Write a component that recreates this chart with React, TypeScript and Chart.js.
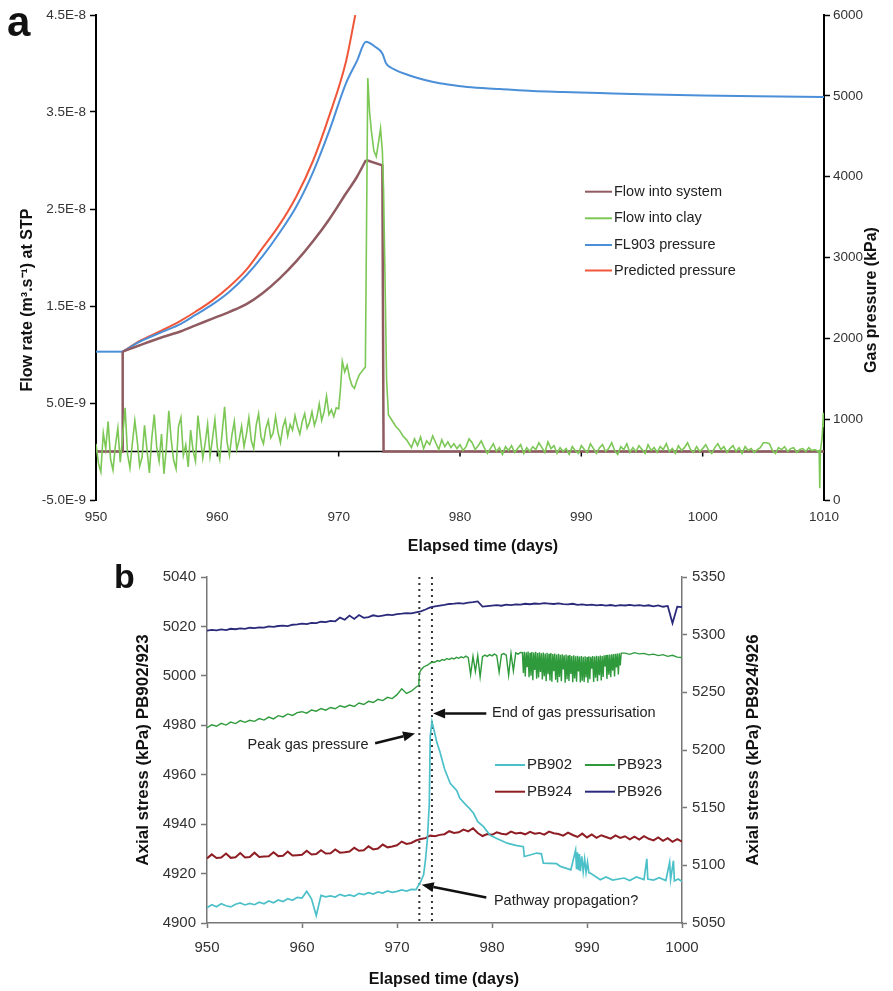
import React, { useEffect, useRef } from "react";
import { Chart, registerables } from "chart.js";

Chart.register(...registerables);

const FONT = '"Liberation Sans", Arial, Helvetica, sans-serif';
Chart.defaults.font.family = FONT;

/* ======================= Panel a ======================= */
const panelAX = { min: 950, max: 1010, step: 10 };
const flowAxis = { min: -5, max: 45, step: 10 }; // flow in units of 1e-9 m3/s
const pressureAxis = { min: 0, max: 6000, step: 1000 }; // kPa

const seriesNamesA = ["Flow into system", "Flow into clay", "FL903 pressure", "Predicted pressure"];
const seriesColorsA = ["#8f5b60", "#7cc756", "#4a8fd8", "#f0573a"];

// Flow into system [day, flow ×1e-9]: step parts (null = gap) and smooth ramp
const flowIntoSystemSteps: (number | null)[][] = [
  [950, 0], [952.2, 0], [952.2, 10.3], [952.3, null],
  [972.25, 30.05], [973.6, 29.5], [973.7, 0], [1010, 0],
];
const flowIntoSystemRamp: number[][] = [
  [952.2, 10.3], [953.5, 10.9], [955.5, 11.8], [957, 12.4], [958.2, 13.0],
  [959.6, 13.7], [961, 14.4], [962.4, 15.2], [963.7, 16.3], [965.1, 17.8], [966.5, 19.6],
  [967.9, 21.7], [969.2, 23.9], [970.6, 26.6], [971.5, 28.3], [972.25, 30.05],
];

// FL903 pressure [day, kPa]
const fl903Flat: number[][] = [[950, 1835], [952.2, 1835]];
const fl903Pressure: number[][] = [
  [952.2, 1835], [953.5, 1950], [955.5, 2082], [957, 2180], [958.2, 2289], [959.6, 2420],
  [961, 2577], [962.4, 2780], [963.7, 3010], [965.1, 3300], [966.5, 3628], [967.9, 4060],
  [969.2, 4557], [970.6, 5155], [971.5, 5430], [972.25, 5670], [973.0, 5608], [973.6, 5525],
  [973.9, 5403], [974.3, 5350], [974.7, 5319], [975.5, 5270], [976.5, 5220], [977.8, 5171],
  [979, 5140], [980.6, 5109], [983.3, 5085], [986, 5060], [988.5, 5048], [991.5, 5035],
  [995, 5020], [1000, 5005], [1004.5, 4995], [1010, 4985],
];

const predictedPressure: number[][] = [
  [952.2, 1835], [953.5, 1960], [955.5, 2103], [957, 2220], [958.2, 2329], [959.6, 2470],
  [961, 2641], [962.4, 2850], [963.7, 3112], [965.1, 3400], [966.5, 3752], [967.9, 4200],
  [969.2, 4742], [970.6, 5422], [971.37, 6000],
];

// Flow into clay, sampled every 0.2 days from day 950 (×1e-9)
const clayEarlyStart = 950;
const clayEarlyStep = 0.2;
const clayEarly = [
  0.8, -1.2, -2.1, 1.9, 0.3, 3.1, -0.8, -1.9, 0.6, 2.4, -1.1,
  1.6, 4.5, -0.3, -1.7, 0.9, 3.2, 1.1, -1.5, -0.6, 2.7,
  0.2, -2.2, 1.4, 3.8, 0.5, -1.0, 1.8, -2.3, 0.4, 4.2,
  1.2, -0.9, -1.8, 2.6, 3.5, -0.4, 0.7, -1.6, 2.2, 0.1,
  -1.0, 3.7, 1.5, -0.7, 0.9, 2.8, -0.5, 1.3, 3.3, 0.4,
  -0.8, 2.0, 4.6, 1.0, -0.4, 1.7, 3.1, 0.2, 1.2, 2.6,
  0.5, 1.8, 3.5, 1.1, 0.3, 2.7, 3.9, 1.5, 0.8, 2.4,
  3.2, 1.4, 1.9, 3.6, 2.0, 0.9, 2.5, 3.3, 1.6, 2.8,
  2.2, 3.7, 2.6, 1.8, 3.1, 3.9, 2.4, 3.0, 4.1, 2.7,
  3.5, 4.9, 3.2, 4.1, 5.7, 3.8, 4.3, 3.6, 4.5,
];
const clayPeak: number[][] = [
  [970.0, 4.4], [970.15, 6.5], [970.3, 9.3], [970.5, 8.2], [970.7, 8.9], [970.9, 7.6], [971.1, 6.8],
  [971.3, 6.5], [971.5, 7.3], [971.7, 7.9], [972.0, 8.4], [972.2, 8.7], [972.4, 38.5], [972.55, 35.0],
  [972.7, 33.0], [972.9, 31.0], [973.1, 30.4], [973.3, 32.0], [973.45, 33.3], [973.6, 31.0],
  [973.7, 27.0], [973.85, 15.6], [973.95, 7.4], [974.1, 3.8], [974.4, 3.2], [974.7, 2.6],
  [975.0, 2.2], [975.3, 1.6], [975.6, 1.2],
];
// sampled every 0.25 days from day 976
const clayTailStart = 976;
const clayTailStep = 0.25;
const clayTail = [
  0.4, 1.3, 0.6, 1.5, 0.3, 1.1, 0.7, 1.6, 0.9,
  0.2, 1.2, 0.5, 1.0, 0.4, 0.8, 0.3, 0.7,
  0.1, 0.5, 1.3, 0.9, 0.2, 0.6, 1.1, 0.4,
  -0.2, 0.3, 0.8, 0.0, 0.4, -0.3, 0.5, 0.1,
  0.6, -0.1, 0.3, 0.7, -0.2, 0.4, 0.0, 0.5,
  0.2, 0.9, 0.4, -0.1, 1.0, 0.3, 0.6, -0.2,
  0.4, 0.0, 0.3, -0.3, 0.5, 0.1, -0.2, 0.6,
  0.2, -0.1, 0.8, 0.3, -0.2, 0.4, 0.7, 0.0,
  0.3, 0.9, 0.1, -0.3, 0.5, 0.2, 0.8, -0.1,
  0.4, 0.0, 0.6, 0.2, -0.2, 0.7, 0.1, 0.4,
  -0.1, 0.5, 0.2, 0.8, 0.0, 0.3, -0.2, 0.6,
  0.1, 0.4, 0.9, 0.2, -0.1, 0.5, 0.0, 0.3,
  0.7, 0.1, -0.2, 0.4, 0.8, 0.2, 0.5, -0.1,
  0.3, 0.6, 0.0, 0.4, -0.2, 0.5, 0.1, 0.3,
  -0.1, 0.2, 0.4, 0.9, 0.9, 0.8, 0.1, -0.2,
  0.4, 0.2, 0.5, 0.0, 0.3, 0.4, -0.1, 0.2,
  0.3, 0.0, 0.4, 0.1, 0.2, 0.0,
];
const clayEnd: number[][] = [
  [1009.6, 0.1], [1009.65, -3.8], [1009.7, 0.0], [1009.85, 1.5], [1009.95, 4.0], [1010, 2.5],
];

/* ======================= Panel b ======================= */
const panelBX = { min: 950, max: 1000, step: 10 };
const stressAxisLeft = { min: 4900, max: 5040, step: 20 };
const stressAxisRight = { min: 5050, max: 5350, step: 50 };

const seriesNamesB = ["PB902", "PB923", "PB924", "PB926"];
const seriesColorsB = ["#4cc0c9", "#2f9a3c", "#8e1d24", "#2b2a7a"];

const markerDays = [972.35, 973.68];

// PB926 (right axis), every 0.5 days from 950
const pb926Start = 950;
const pb926Step = 0.5;
const pb926 = [
  5303.5, 5304.2, 5303.8, 5304.6, 5304.0, 5305.1, 5304.7, 5305.4, 5305.0, 5306.0,
  5305.6, 5306.4, 5306.1, 5307.2, 5306.8, 5307.5, 5307.9, 5307.4, 5308.6, 5308.9,
  5309.5, 5309.1, 5310.3, 5310.0, 5311.2, 5310.8, 5312.0, 5311.6, 5314.8, 5312.9,
  5316.5, 5313.6, 5317.0, 5314.6, 5315.2, 5316.8, 5315.9, 5316.6, 5317.3, 5317.0,
  5317.8, 5318.2, 5318.7, 5318.4, 5319.3, 5320.2, 5321.8, 5323.6, 5324.6, 5325.2,
  5325.8, 5326.6, 5326.9, 5327.3, 5327.0, 5327.8, 5328.3, 5328.9, 5324.4, 5324.8,
  5325.2, 5325.6, 5325.1, 5326.0, 5325.7, 5326.3, 5326.0, 5326.8, 5326.4, 5327.0,
  5326.7, 5327.3, 5327.0, 5326.6, 5327.1, 5326.5, 5326.2, 5326.8, 5325.9, 5326.3,
  5325.6, 5326.0, 5325.4, 5325.9, 5325.2, 5325.7, 5325.0, 5325.6, 5325.3, 5325.8,
  5325.2, 5325.6, 5325.0, 5325.5, 5324.6, 5325.3, 5324.2, 5324.9, 5310.0, 5324.3,
  5323.8,
];

// PB924 (right axis), every 0.5 days from 950
const pb924Start = 950;
const pb924Step = 0.5;
const pb924 = [
  5106.0, 5109.5, 5106.4, 5106.8, 5110.2, 5106.5, 5107.0, 5110.6, 5106.9, 5107.3,
  5111.0, 5107.2, 5107.6, 5107.9, 5111.4, 5108.0, 5108.3, 5111.9, 5108.5, 5108.8,
  5109.1, 5112.6, 5109.4, 5109.8, 5113.1, 5110.2, 5110.5, 5113.8, 5111.0, 5111.4,
  5112.0, 5115.2, 5112.6, 5113.1, 5116.5, 5113.8, 5114.6, 5118.0, 5115.6, 5116.3,
  5117.4, 5120.6, 5118.5, 5119.4, 5121.5, 5122.8, 5123.6, 5125.9, 5125.3, 5126.4,
  5127.0, 5129.6, 5128.1, 5128.6, 5131.0, 5129.4, 5132.2, 5128.0, 5125.4, 5127.2,
  5126.5, 5128.6, 5127.4, 5126.8, 5129.2, 5127.6, 5128.3, 5126.9, 5129.0, 5127.5,
  5128.1, 5126.6, 5129.3, 5127.9, 5127.2, 5125.8, 5128.4, 5126.3, 5124.6, 5127.5,
  5124.2, 5126.8, 5123.9, 5126.1, 5124.6, 5123.2, 5126.0, 5123.8, 5125.2, 5122.6,
  5124.8, 5122.4, 5125.3, 5123.0, 5121.6, 5124.2, 5121.2, 5123.6, 5120.4, 5122.8,
  5120.6,
];

// PB923 (left axis)
const pb923EarlyStart = 950;
const pb923EarlyStep = 0.5;
const pb923Early = [
  4979.0, 4980.2, 4979.6, 4980.8, 4980.1, 4981.3, 4980.7, 4981.9, 4981.2, 4982.0,
  4981.6, 4982.7, 4982.1, 4983.3, 4982.6, 4983.9, 4983.4, 4984.6, 4984.0, 4985.1,
  4985.5, 4984.9, 4986.2, 4985.7, 4986.8, 4986.1, 4987.2, 4986.7, 4987.9, 4987.3,
  4988.2, 4987.6, 4989.0, 4988.4, 4989.7, 4989.2, 4990.5, 4990.0, 4991.3, 4990.8,
  4992.4, 4994.8, 4992.9, 4993.8, 4995.4,
];
const pb923Jump: number[][] = [
  [972.3, 4996.2], [972.35, 5001.0], [972.5, 5002.3], [972.8, 5003.6], [973.2, 5004.3], [973.6, 5005.4],
];
const pb923MidStart = 974;
const pb923MidStep = 0.25;
const pb923Mid = [
  5005.6, 5006.2, 5005.9, 5006.6, 5006.3, 5007.0, 5006.6, 5007.2, 5006.8, 5007.5, 5007.1, 5007.7,
  5007.3, 5008.0, 5007.4, 5000.5, 5007.9, 5001.8, 5008.2, 4999.6, 5007.8, 5008.4, 5007.9, 5008.6,
  5008.1, 5008.8, 5008.3, 5001.5, 5008.6, 5009.0, 5008.4, 5000.2, 5009.1, 5002.0, 5009.3, 5008.8,
  5009.5,
];
// oscillating band, every 0.1 days from 983.2
const pb923BandStart = 983.2;
const pb923BandStep = 0.1;
const pb923Band = [
  5009.4, 5001.2, 5009.7, 4999.8, 5009.5, 5003.5, 5009.8, 4999.4, 5009.3, 5000.1,
  5009.6, 4998.2, 5009.4, 5002.4, 5009.7, 4998.8, 5009.2, 4999.3, 5009.5, 5001.6,
  5009.1, 4998.5, 5009.4, 4999.9, 5009.0, 4997.8, 5009.3, 5000.7, 5008.9, 4998.1,
  5009.2, 4997.6, 5008.8, 5001.9, 5009.0, 4998.4, 5008.6, 4997.3, 5008.9, 4999.5,
  5008.5, 4997.8, 5008.7, 5002.6, 5008.3, 4997.2, 5008.6, 4998.6, 5008.2, 4997.9,
  5008.4, 5000.8, 5008.0, 4997.4, 5008.3, 4998.9, 5007.9, 4997.6, 5008.1, 5001.8,
  5007.8, 4997.3, 5008.0, 4998.0, 5007.7, 4997.5, 5007.9, 4999.3, 5007.6, 4997.2,
  5007.9, 4998.6, 5007.7, 5002.9, 5008.0, 4997.5, 5007.8, 4999.2, 5008.1, 4997.8,
  5007.9, 5000.3, 5008.2, 4998.1, 5008.0, 4999.6, 5008.3, 5003.8, 5008.4, 4998.7,
  5008.5, 5000.5, 5008.6, 4999.4, 5008.7, 5002.1, 5008.8, 4999.8, 5008.9, 5003.4,
  5009.0, 5000.6, 5009.1, 5004.2, 5009.2,
];
const pb923LateStart = 994;
const pb923LateStep = 0.5;
const pb923Late = [
  5009.2, 5008.7, 5009.4, 5008.9, 5009.1, 5008.5, 5008.8, 5008.2, 5008.6, 5007.9, 5008.3, 5007.6, 5007.4,
];

// PB902 (left axis)
const pb902EarlyStart = 950;
const pb902EarlyStep = 0.5;
const pb902Early = [
  4906.2, 4907.4, 4906.6, 4907.8, 4907.0, 4906.5, 4907.6, 4908.1, 4907.3, 4907.9,
  4907.4, 4908.4, 4907.8, 4908.9, 4908.2, 4909.3, 4908.7, 4909.8, 4909.2, 4910.4,
  4910.1, 4912.8, 4909.8, 4903.0, 4911.2, 4910.6, 4911.0, 4910.5, 4911.6, 4910.9,
  4911.4, 4910.8, 4912.0, 4911.5, 4912.3, 4911.7, 4912.6, 4912.1, 4913.0, 4912.4,
  4912.8, 4913.4, 4912.9, 4913.6, 4913.5,
];
const pb902Late: number[][] = [
  [972.5, 4916.8], [972.8, 4919.5], [973.0, 4925.6], [973.2, 4934.0], [973.4, 4948.5], [973.5, 4975.4],
  [973.68, 4981.4], [973.9, 4978.0], [974.2, 4973.0], [974.5, 4969.5], [975.0, 4962.4], [975.6, 4956.5],
  [976.3, 4953.5], [976.6, 4950.6], [977.3, 4947.6], [977.6, 4946.5], [978.06, 4944.4], [978.5, 4941.0],
  [979.1, 4939.0], [979.8, 4935.5], [980.5, 4934.2], [981.6, 4932.3], [982.5, 4931.4], [983.3, 4930.9],
  [983.4, 4926.9], [984.0, 4927.5], [984.7, 4928.3], [985.2, 4928.0], [985.4, 4924.2], [986.8, 4924.0],
  [987.2, 4922.9], [988.3, 4921.5], [988.8, 4929.5], [988.9, 4921.8], [989.0, 4928.6], [989.1, 4921.4],
  [989.2, 4927.9], [989.3, 4921.0], [989.45, 4927.0], [989.6, 4920.8], [989.75, 4925.8], [989.9, 4920.5],
  [990.05, 4924.6], [990.2, 4920.3], [990.35, 4920.2], [991.4, 4917.5], [992.0, 4918.6], [992.7, 4917.4],
  [993.9, 4918.2], [994.5, 4917.2], [995.2, 4918.6], [996.0, 4917.6], [996.3, 4926.0], [996.4, 4917.8],
  [997.0, 4917.4], [997.6, 4918.3], [998.3, 4917.2], [998.7, 4924.6], [998.8, 4917.6], [999.1, 4925.2],
  [999.2, 4917.0], [999.6, 4917.8], [1000, 4916.8],
];

const annotationsB = [
  { text: "End of gas pressurisation", textAt: [980.0, 4984.8], align: "left", from: [979.4, 4984.8], to: [973.8, 4984.8] },
  { text: "Peak gas pressure", textAt: [967.0, 4972.0], align: "right", from: [967.7, 4972.7], to: [971.9, 4976.7] },
  { text: "Pathway propagation?", textAt: [980.2, 4908.7], align: "left", from: [979.4, 4910.3], to: [972.6, 4915.5] },
];

/* ======================= helpers ======================= */
const pairs = (arr: (number | null)[][]) => arr.map(([x, y]) => ({ x, y }));
const sampled = (start: number, step: number, vals: number[]) =>
  vals.map((y, i) => ({ x: Math.round((start + i * step) * 1000) / 1000, y }));
const plain = (v: any) => String(v);

function drawText(ctx: any, text: string, x: number, y: number, font: string, align = "center", rot = 0, color = "#111", baseline = "middle") {
  ctx.save();
  ctx.translate(x, y);
  ctx.rotate(rot);
  ctx.font = font;
  ctx.fillStyle = color;
  ctx.textAlign = align;
  ctx.textBaseline = baseline;
  ctx.fillText(text, 0, 0);
  ctx.restore();
}

function drawArrow(ctx: any, x1: number, y1: number, x2: number, y2: number) {
  const ang = Math.atan2(y2 - y1, x2 - x1);
  const len = 12;
  const half = 5;
  const bx = x2 - len * Math.cos(ang);
  const by = y2 - len * Math.sin(ang);
  ctx.save();
  ctx.strokeStyle = "#111";
  ctx.fillStyle = "#111";
  ctx.lineWidth = 2.5;
  ctx.beginPath();
  ctx.moveTo(x1, y1);
  ctx.lineTo(bx, by);
  ctx.stroke();
  ctx.beginPath();
  ctx.moveTo(x2, y2);
  ctx.lineTo(bx + half * Math.sin(ang), by - half * Math.cos(ang));
  ctx.lineTo(bx - half * Math.sin(ang), by + half * Math.cos(ang));
  ctx.closePath();
  ctx.fill();
  ctx.restore();
}

function drawLegend(ctx: any, items: { label: string; color: string; x: number; y: number }[], lineLen: number, font: string) {
  ctx.save();
  items.forEach((it) => {
    ctx.strokeStyle = it.color;
    ctx.lineWidth = 2;
    ctx.beginPath();
    ctx.moveTo(it.x, it.y);
    ctx.lineTo(it.x + lineLen, it.y);
    ctx.stroke();
    drawText(ctx, it.label, it.x + lineLen + 2, it.y, font, "left", 0, "#222");
  });
  ctx.restore();
}

/* ======================= Panel a chart ======================= */
function makeChartA(canvas: HTMLCanvasElement) {
  const plugin = {
    id: "panelAOverlay",
    beforeDatasetsDraw(chart: any) {
      const { ctx, chartArea, scales } = chart;
      const y0 = scales.y.getPixelForValue(0);
      ctx.save();
      ctx.strokeStyle = "#000";
      ctx.lineWidth = 1.5;
      ctx.beginPath();
      ctx.moveTo(chartArea.left, y0);
      ctx.lineTo(chartArea.right, y0);
      scales.x.ticks.forEach((t: any) => {
        const x = scales.x.getPixelForValue(t.value);
        ctx.moveTo(x, y0);
        ctx.lineTo(x, y0 + 5);
      });
      ctx.stroke();
      ctx.restore();
    },
    afterDraw(chart: any) {
      const { ctx } = chart;
      drawText(ctx, "a", 7, 36, `bold 42px ${FONT}`, "left", 0, "#111", "alphabetic");
      drawText(ctx, "Flow rate (m³.s⁻¹) at STP", 28, 300, `bold 16px ${FONT}`, "center", -Math.PI / 2);
      drawText(ctx, "Gas pressure (kPa)", 872, 300, `bold 16px ${FONT}`, "center", -Math.PI / 2);
      drawText(ctx, "Elapsed time (days)", 483, 547, `bold 16px ${FONT}`, "center");
      const rows = [191.7, 218.3, 245, 270.5];
      drawLegend(
        ctx,
        seriesNamesA.map((label, i) => ({ label, color: seriesColorsA[i], x: 585, y: rows[i] })),
        27,
        `14.5px ${FONT}`
      );
    },
  };

  const clayData = [
    ...sampled(clayEarlyStart, clayEarlyStep, clayEarly),
    ...pairs(clayPeak),
    ...sampled(clayTailStart, clayTailStep, clayTail),
    ...pairs(clayEnd),
  ];
  const line = { pointRadius: 0, tension: 0 };

  return new Chart(canvas, {
    type: "line",
    data: {
      datasets: [
        { label: seriesNamesA[1], data: clayData, yAxisID: "y", borderColor: seriesColorsA[1], borderWidth: 1.6, ...line },
        { label: seriesNamesA[0], data: pairs(flowIntoSystemSteps), yAxisID: "y", borderColor: seriesColorsA[0], borderWidth: 2.5, spanGaps: false, ...line },
        { label: seriesNamesA[0], data: pairs(flowIntoSystemRamp), yAxisID: "y", borderColor: seriesColorsA[0], borderWidth: 2.5, pointRadius: 0, cubicInterpolationMode: "monotone" },
        { label: seriesNamesA[2], data: pairs(fl903Flat), yAxisID: "y1", borderColor: seriesColorsA[2], borderWidth: 2, ...line },
        { label: seriesNamesA[2], data: pairs(fl903Pressure), yAxisID: "y1", borderColor: seriesColorsA[2], borderWidth: 2, pointRadius: 0, cubicInterpolationMode: "monotone" },
        { label: seriesNamesA[3], data: pairs(predictedPressure), yAxisID: "y1", borderColor: seriesColorsA[3], borderWidth: 2, pointRadius: 0, cubicInterpolationMode: "monotone" },
      ],
    },
    options: {
      animation: false,
      responsive: false,
      devicePixelRatio: 1,
      events: [],
      layout: { padding: { top: 15, left: 0, right: 0, bottom: 0 } },
      plugins: { legend: { display: false }, tooltip: { enabled: false } },
      scales: {
        x: {
          type: "linear",
          min: panelAX.min,
          max: panelAX.max,
          ticks: { stepSize: panelAX.step, padding: 9, color: "#333", font: { size: 13.5 }, callback: plain },
          grid: { display: false, drawTicks: false },
          border: { display: false },
          afterFit: (s: any) => { s.height = 60; },
        },
        y: {
          type: "linear",
          position: "left",
          min: flowAxis.min,
          max: flowAxis.max,
          ticks: {
            stepSize: flowAxis.step,
            padding: 4,
            color: "#333",
            font: { size: 13.5 },
            callback: (v: any) => (Number(v) * 1e-9).toExponential(1).toUpperCase(),
          },
          grid: { drawOnChartArea: false, tickLength: 6, tickColor: "#000", tickWidth: 1.5 },
          border: { display: true, color: "#000", width: 2 },
          afterFit: (s: any) => { s.width = 96; },
        },
        y1: {
          type: "linear",
          position: "right",
          min: pressureAxis.min,
          max: pressureAxis.max,
          ticks: { stepSize: pressureAxis.step, padding: 3, color: "#333", font: { size: 13.5 }, callback: plain },
          grid: { drawOnChartArea: false, tickLength: 6, tickColor: "#000", tickWidth: 1.5 },
          border: { display: true, color: "#000", width: 2 },
          afterFit: (s: any) => { s.width = 69; },
        },
      },
    } as any,
    plugins: [plugin],
  } as any);
}

/* ======================= Panel b chart ======================= */
function makeChartB(canvas: HTMLCanvasElement) {
  const plugin = {
    id: "panelBOverlay",
    beforeDatasetsDraw(chart: any) {
      const { ctx, chartArea, scales } = chart;
      ctx.save();
      ctx.strokeStyle = "#333";
      ctx.lineWidth = 2;
      ctx.setLineDash([2, 4]);
      markerDays.forEach((d) => {
        const x = scales.x.getPixelForValue(d);
        ctx.beginPath();
        ctx.moveTo(x, chartArea.top);
        ctx.lineTo(x, chartArea.bottom);
        ctx.stroke();
      });
      ctx.restore();
    },
    afterDraw(chart: any) {
      const { ctx, scales } = chart;
      const px = (d: number) => scales.x.getPixelForValue(d);
      const py = (v: number) => scales.y.getPixelForValue(v);
      drawText(ctx, "b", 114, 28, `bold 34px ${FONT}`, "left", 0, "#111", "alphabetic");
      drawText(ctx, "Axial stress (kPa) PB902/923", 143, 190, `bold 17px ${FONT}`, "center", -Math.PI / 2);
      drawText(ctx, "Axial stress (kPa) PB924/926", 753, 190, `bold 17px ${FONT}`, "center", -Math.PI / 2);
      drawText(ctx, "Elapsed time (days)", 444, 420, `bold 16px ${FONT}`, "center");
      annotationsB.forEach((a) => {
        drawArrow(ctx, px(a.from[0]), py(a.from[1]), px(a.to[0]), py(a.to[1]));
        drawText(ctx, a.text, px(a.textAt[0]), py(a.textAt[1]), `14.5px ${FONT}`, a.align, 0, "#222");
      });
      const cols = [495, 585];
      const rows = [205, 231.7];
      drawLegend(
        ctx,
        seriesNamesB.map((label, i) => ({ label, color: seriesColorsB[i], x: cols[i % 2], y: rows[Math.floor(i / 2)] })),
        30,
        `15px ${FONT}`
      );
    },
  };

  const pb923Data = [
    ...sampled(pb923EarlyStart, pb923EarlyStep, pb923Early),
    ...pairs(pb923Jump),
    ...sampled(pb923MidStart, pb923MidStep, pb923Mid),
    ...sampled(pb923BandStart, pb923BandStep, pb923Band),
    ...sampled(pb923LateStart, pb923LateStep, pb923Late),
  ];
  const pb902Data = [...sampled(pb902EarlyStart, pb902EarlyStep, pb902Early), ...pairs(pb902Late)];

  const axisGrey = "#777";
  return new Chart(canvas, {
    type: "line",
    data: {
      datasets: [
        { label: seriesNamesB[0], data: pb902Data, yAxisID: "y", borderColor: seriesColorsB[0], borderWidth: 1.7, pointRadius: 0, tension: 0 },
        { label: seriesNamesB[2], data: sampled(pb924Start, pb924Step, pb924), yAxisID: "y1", borderColor: seriesColorsB[2], borderWidth: 2, pointRadius: 0, tension: 0 },
        { label: seriesNamesB[1], data: pb923Data, yAxisID: "y", borderColor: seriesColorsB[1], borderWidth: 1.4, pointRadius: 0, tension: 0 },
        { label: seriesNamesB[3], data: sampled(pb926Start, pb926Step, pb926), yAxisID: "y1", borderColor: seriesColorsB[3], borderWidth: 1.8, pointRadius: 0, tension: 0 },
      ],
    },
    options: {
      animation: false,
      responsive: false,
      devicePixelRatio: 1,
      events: [],
      layout: { padding: { top: 17, left: 0, right: 0, bottom: 0 } },
      plugins: { legend: { display: false }, tooltip: { enabled: false } },
      scales: {
        x: {
          type: "linear",
          min: panelBX.min,
          max: panelBX.max,
          ticks: { stepSize: panelBX.step, padding: 11, color: "#333", font: { size: 15 }, callback: plain },
          grid: { drawOnChartArea: false, tickLength: 5, tickColor: axisGrey, tickWidth: 1.5 },
          border: { display: true, color: axisGrey, width: 1.5 },
          afterFit: (s: any) => { s.height = 68; },
        },
        y: {
          type: "linear",
          position: "left",
          min: stressAxisLeft.min,
          max: stressAxisLeft.max,
          ticks: { stepSize: stressAxisLeft.step, padding: 5, color: "#333", font: { size: 15 }, callback: plain },
          grid: { drawOnChartArea: false, tickLength: 6, tickColor: axisGrey, tickWidth: 1.5 },
          border: { display: true, color: axisGrey, width: 1.5 },
          afterFit: (s: any) => { s.width = 207; },
        },
        y1: {
          type: "linear",
          position: "right",
          min: stressAxisRight.min,
          max: stressAxisRight.max,
          ticks: { stepSize: stressAxisRight.step, padding: 5, color: "#333", font: { size: 15 }, callback: plain },
          grid: { drawOnChartArea: false, tickLength: 5, tickColor: axisGrey, tickWidth: 1.5 },
          border: { display: true, color: axisGrey, width: 1.5 },
          afterFit: (s: any) => { s.width = 211; },
        },
      },
    } as any,
    plugins: [plugin],
  } as any);
}

export default function App() {
  const refA = useRef<HTMLCanvasElement | null>(null);
  const refB = useRef<HTMLCanvasElement | null>(null);

  useEffect(() => {
    const a = refA.current ? makeChartA(refA.current) : null;
    const b = refB.current ? makeChartB(refB.current) : null;
    return () => {
      a && a.destroy();
      b && b.destroy();
    };
  }, []);

  return (
    <div style={{ position: "absolute", left: 0, top: 0, width: 893, height: 991, background: "#fff" }}>
      <canvas ref={refA} width={893} height={560} style={{ position: "absolute", left: 0, top: 0, width: 893, height: 560 }} />
      <canvas ref={refB} width={893} height={431} style={{ position: "absolute", left: 0, top: 560, width: 893, height: 431 }} />
    </div>
  );
}
